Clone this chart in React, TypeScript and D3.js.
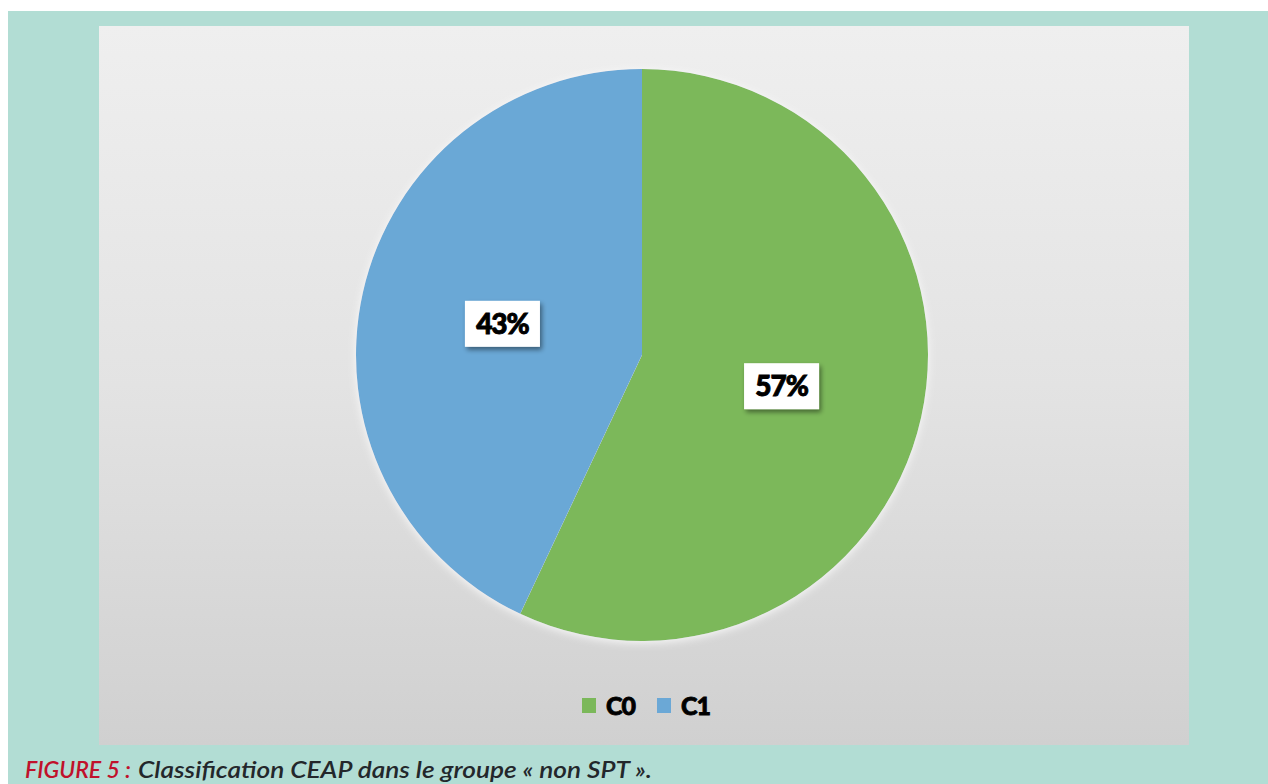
import React from "react";
import * as d3 from "d3";

const categories = ["C0", "C1"];
const values = [57, 43];
const labels = ["57%", "43%"];
const colors = ["#7bb85a", "#6ba8d6"];
const captionLead = "FIGURE 5 :";
const captionRest = "Classification CEAP dans le groupe « non SPT ».";

const W = 1268;
const H = 784;
const cx = 642;
const cy = 355;
const R = 286;

export default function App() {
  const pie = d3.pie<number>().sort(null).value((d) => d);
  const arcs = pie(values);
  const arcGen = d3.arc<d3.PieArcDatum<number>>().innerRadius(0).outerRadius(R);

  const legendX = [582, 657];

  return (
    <svg
      width={W}
      height={H}
      style={{ position: "absolute", left: 0, top: 0, display: "block" }}
    >
      <defs>
        <linearGradient id="panelGrad" x1="0" y1="0" x2="0" y2="1">
          <stop offset="0" stopColor="#efefef" />
          <stop offset="0.5" stopColor="#e3e3e3" />
          <stop offset="1" stopColor="#d0d0d0" />
        </linearGradient>
        <filter id="pieGlow" x="-10%" y="-10%" width="120%" height="120%">
          <feGaussianBlur in="SourceAlpha" stdDeviation="4" />
          <feOffset dx="0" dy="2" result="b" />
          <feFlood floodColor="#ffffff" floodOpacity="0.8" />
          <feComposite in2="b" operator="in" />
          <feMerge>
            <feMergeNode />
            <feMergeNode in="SourceGraphic" />
          </feMerge>
        </filter>
        <filter id="boxShadow" x="-30%" y="-30%" width="160%" height="170%">
          <feGaussianBlur in="SourceAlpha" stdDeviation="2.5" />
          <feOffset dx="2" dy="3" result="o" />
          <feComponentTransfer>
            <feFuncA type="linear" slope="0.45" />
          </feComponentTransfer>
          <feMerge>
            <feMergeNode />
            <feMergeNode in="SourceGraphic" />
          </feMerge>
        </filter>
      </defs>

      <rect x={0} y={0} width={W} height={H} fill="#ffffff" />
      <rect x={8} y={11} width={W - 8} height={H - 11} fill="#b2ddd4" />
      <rect x={99} y={26} width={1090} height={719} fill="url(#panelGrad)" />

      <g transform={`translate(${cx},${cy})`} filter="url(#pieGlow)">
        {arcs.map((a, i) => (
          <path key={categories[i]} d={arcGen(a) || ""} fill={colors[i]} />
        ))}
      </g>

      <g transform={`translate(${cx},${cy})`}>
        {arcs.map((a, i) => {
          const [lx, ly] = arcGen.centroid(a);
          return (
            <g key={"lab" + i} transform={`translate(${lx},${ly})`}>
              <rect
                x={-37.5}
                y={-23}
                width={75}
                height={46}
                fill="#ffffff"
                filter="url(#boxShadow)"
              />
              <text
                x={0}
                y={10}
                textAnchor="middle"
                fontFamily="Lato, 'Liberation Sans', sans-serif"
                fontWeight={900}
                fontSize={28}
                fill="#000000"
                stroke="#000000"
                strokeWidth={0.9}
                letterSpacing={-1}
              >
                {labels[i]}
              </text>
            </g>
          );
        })}
      </g>

      <g>
        {categories.map((c, i) => (
          <g key={"leg" + c}>
            <rect x={legendX[i]} y={698} width={14} height={15} fill={colors[i]} />
            <text
              x={legendX[i] + 24}
              y={715}
              fontFamily="Lato, 'Liberation Sans', sans-serif"
              fontWeight={900}
              fontSize={25}
              fill="#000000"
              stroke="#000000"
              strokeWidth={0.8}
              letterSpacing={-1}
            >
              {c}
            </text>
          </g>
        ))}
      </g>

      <text
        x={25}
        y={778}
        fontFamily="Lato, 'Open Sans', sans-serif"
        fontStyle="italic"
        fontWeight={600}
        fontSize={22}
        fill="#c0112b"
        textLength={106}
        lengthAdjust="spacingAndGlyphs"
      >
        {captionLead}
      </text>
      <text
        x={138}
        y={778}
        fontFamily="Lato, 'Open Sans', sans-serif"
        fontStyle="italic"
        fontWeight={600}
        fontSize={22}
        fill="#23272b"
        textLength={514}
        lengthAdjust="spacingAndGlyphs"
      >
        {captionRest}
      </text>
    </svg>
  );
}
